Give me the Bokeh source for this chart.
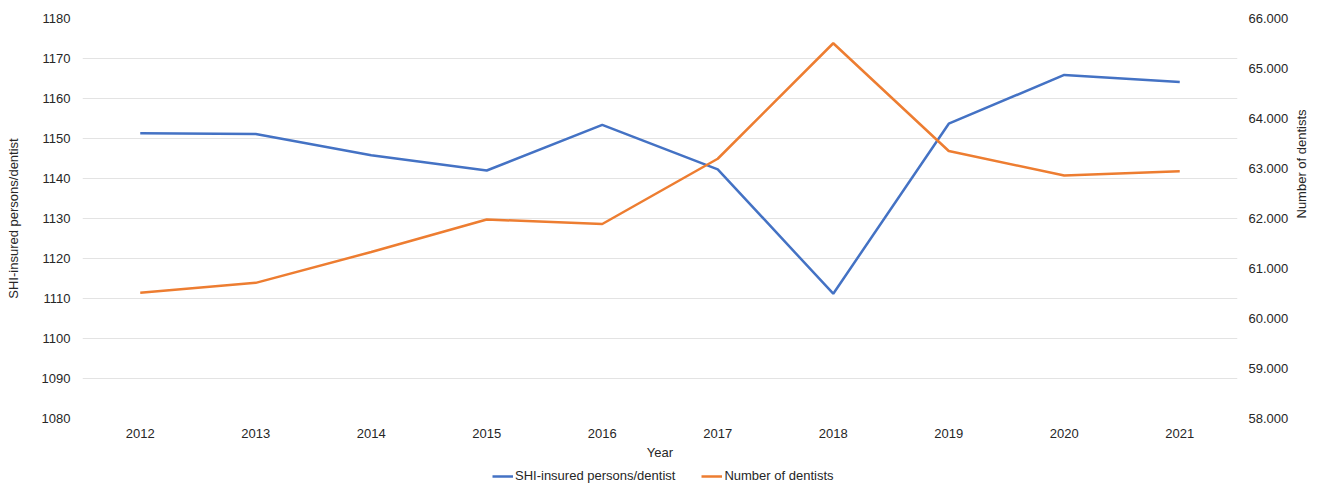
import math
from bokeh.plotting import figure
from bokeh.layouts import column
from bokeh.models import (Range1d, FactorRange, LinearAxis, FixedTicker, CustomJSTickFormatter,
                          Legend, LegendItem, ColumnDataSource)
from bokeh.embed import file_html
from bokeh.resources import INLINE

years = ["2012", "2013", "2014", "2015", "2016", "2017", "2018", "2019", "2020", "2021"]
insured_per_dentist = [1151.3, 1151.1, 1145.8, 1142.0, 1153.4, 1142.3, 1111.2, 1153.7, 1165.9, 1164.1]
num_dentists = [60513, 60713, 61330, 61980, 61890, 63195, 65505, 63350, 62860, 62945]

left_ticks = [1080, 1090, 1100, 1110, 1120, 1130, 1140, 1150, 1160, 1170, 1180]
right_ticks = [58000, 59000, 60000, 61000, 62000, 63000, 64000, 65000, 66000]
series_names = ["SHI-insured persons/dentist", "Number of dentists"]

FONT = "Liberation Sans"
TXT = "#262626"
BLUE = "#4472C4"
ORANGE = "#ED7D31"

src = ColumnDataSource(dict(year=years, a=insured_per_dentist, b=num_dentists))

p = figure(frame_width=1155, frame_height=400, output_backend="svg", toolbar_location=None,
           x_range=FactorRange(*years, range_padding=0),
           y_range=Range1d(1080, 1180),
           min_border_left=82, min_border_right=83, min_border_top=18, min_border_bottom=42)
p.extra_y_ranges = {"right": Range1d(58000, 66000)}
p.outline_line_color = None
p.background_fill_color = "white"
p.border_fill_color = "white"

p.line("year", "a", source=src, line_color=BLUE, line_width=2.5)
p.line("year", "b", source=src, line_color=ORANGE, line_width=2.5, y_range_name="right")

def style(ax):
    ax.axis_line_color = None
    ax.major_tick_line_color = None
    ax.minor_tick_line_color = None
    ax.major_label_text_font = FONT
    ax.major_label_text_font_size = "13px"
    ax.major_label_text_color = TXT
    ax.axis_label_text_font = FONT
    ax.axis_label_text_font_size = "13px"
    ax.axis_label_text_font_style = "normal"
    ax.axis_label_text_color = TXT

xa = p.xaxis[0]
style(xa)
xa.axis_label = "Year"
xa.major_label_standoff = 10
xa.axis_label_standoff = 4
xa.major_tick_out = 0

ya = p.yaxis[0]
style(ya)
ya.axis_label = series_names[0]
ya.ticker = FixedTicker(ticks=left_ticks)
ya.major_label_standoff = 12
ya.axis_label_standoff = 18
ya.major_tick_out = 0

ra = LinearAxis(y_range_name="right")
style(ra)
ra.ticker = FixedTicker(ticks=right_ticks)
ra.formatter = CustomJSTickFormatter(code="""
return Math.round(tick).toString().replace(/\\B(?=(\\d{3})+(?!\\d))/g, ".");
""")
ra.major_label_standoff = 11
ra.major_tick_out = 0
p.add_layout(ra, "right")

# title-only axis for the right side (reads bottom-to-top)
ta = LinearAxis(y_range_name="right", axis_label=series_names[1], bounds=(59200, 61200))
style(ta)
ta.ticker = FixedTicker(ticks=[])
ta.major_label_text_font_size = "0px"
ta.major_tick_out = 0
ta.major_label_standoff = 0
ta.axis_label_standoff = 10
ta.axis_label_orientation = math.pi / 2
p.add_layout(ta, "right")

p.xgrid.grid_line_color = None
p.ygrid.grid_line_color = "#e3e3e3"
p.ygrid.grid_line_width = 1
p.ygrid.ticker = FixedTicker(ticks=left_ticks)

# legend strip below the chart
lg = figure(width=1320, height=24, output_backend="svg", toolbar_location=None,
            x_axis_type=None, y_axis_type=None, min_border=0,
            x_range=FactorRange(*years), y_range=Range1d(0, 1))
lg.outline_line_color = None
lg.xgrid.visible = False
lg.ygrid.visible = False
g1 = lg.line("year", "a", source=src, line_color=BLUE, line_width=2.5)
g2 = lg.line("year", "b", source=src, line_color=ORANGE, line_width=2.5)
legend = Legend(items=[LegendItem(label=series_names[0], renderers=[g1]),
                       LegendItem(label=series_names[1], renderers=[g2])],
                orientation="horizontal", location=(410, 3),
                label_text_font=FONT, label_text_font_size="13px", label_text_color=TXT,
                glyph_width=21, glyph_height=14, label_height=14, label_standoff=2,
                spacing=26, padding=0, margin=0, border_line_color=None,
                background_fill_alpha=0)
lg.add_layout(legend)

open("out.html", "w").write(file_html(column(p, lg, spacing=0), INLINE))
